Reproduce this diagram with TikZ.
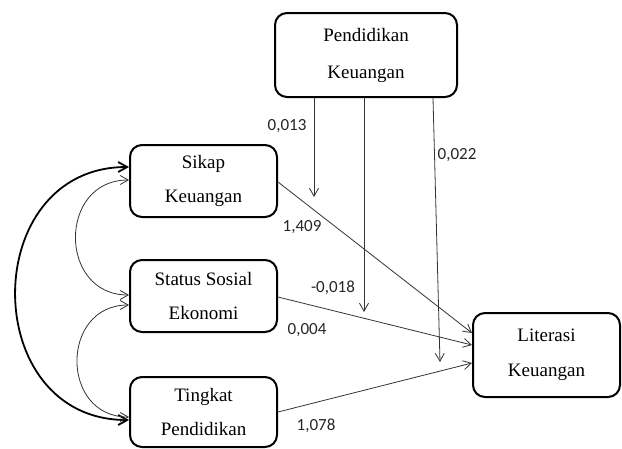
\documentclass[tikz,border=0pt]{standalone}
\usepackage{fontspec}
\setmainfont{Liberation Serif}
\newfontfamily\coeffont{Carlito}
\usetikzlibrary{arrows.meta}

\begin{document}
\begin{tikzpicture}[x=1pt,y=-1pt,
  var/.style={draw, line width=2pt, rounded corners=12pt, minimum width=147pt, minimum height=72pt, align=center, inner sep=0pt, font=\fontsize{19}{34}\selectfont},
  reg/.style={draw=black!80, line width=0.8pt, -{Straight Barb[length=8pt,width=9pt]}},
  cov/.style={draw=black!80, line width=0.8pt, {Straight Barb[length=8pt,width=9pt]}-{Straight Barb[length=8pt,width=9pt]}},
  bigcov/.style={draw, line width=1.8pt, {Straight Barb[length=9pt,width=10pt]}-{Straight Barb[length=9pt,width=10pt]}},
  coef/.style={font=\coeffont\fontsize{17}{20}\selectfont, text=black!85}]
\useasboundingbox (0,0) rectangle (622,448);
\node[var, minimum width=182pt, minimum height=84pt, font=\fontsize{19}{37}\selectfont] (pk) at (366,55) {Pendidikan\\Keuangan};
\node[var] (sk) at (203.5,181) {Sikap\\Keuangan};
\node[var] (sse) at (203.5,296) {Status Sosial\\Ekonomi};
\node[var, minimum height=70pt] (tp) at (203.5,412) {Tingkat\\Pendidikan};
\node[var, minimum height=84pt, font=\fontsize{19}{35}\selectfont] (lk) at (546.5,355) {Literasi\\Keuangan};
\coordinate (m1) at (314,197);
\coordinate (m2) at (364,312);
\coordinate (m3) at (440,362);
% direct paths
\draw[reg] ([yshift=-1pt]sk.east) -- ([yshift=22pt]lk.west);
\draw[reg] ([yshift=-1pt]sse.east) -- ([yshift=10pt]lk.west);
\draw[reg] ([yshift=0pt]tp.east) -- ([yshift=-8pt]lk.west);
% moderation
\draw[reg] (pk.south -| m1) -- (m1);
\draw[reg] (pk.south -| m2) -- (m2);
\draw[reg] (pk.south -| 433,0) -- (m3);
% correlations
\draw[bigcov] ([yshift=14pt]sk.west) .. controls (-22,167) and (-22,420) .. ([yshift=-8pt]tp.west);
\draw[cov] ([yshift=1pt]sk.west) .. controls (58,180) and (58,295) .. ([yshift=1pt]sse.west);
\draw[cov] ([yshift=-9pt]sse.west) .. controls (60,305) and (60,417) .. ([yshift=-5pt]tp.west);
% coefficients
\node[coef] (c1) at (287,126) {0,013};
\node[coef] (c2) at (457,155) {0,022};
\node[coef] (c3) at (302,227) {1,409};
\node[coef] (c4) at (333,288) {-0,018};
\node[coef] (c5) at (307,330) {0,004};
\node[coef] (c6) at (316,426) {1,078};
\end{tikzpicture}
\end{document}
